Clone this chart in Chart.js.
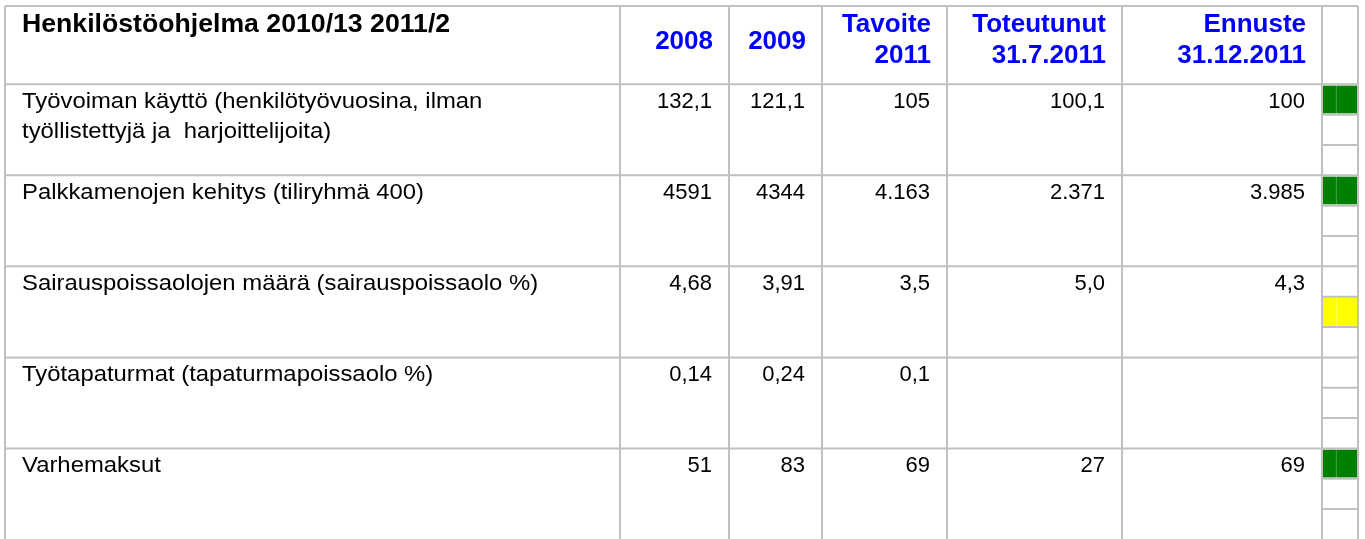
<!DOCTYPE html>
<html>
<head>
<meta charset="utf-8">
<script src="https://cdn.jsdelivr.net/npm/chart.js"></script>
<style>
  html, body { margin: 0; padding: 0; background: #fff; width: 1365px; height: 539px; overflow: hidden; }
  #table { display: block; }
</style>
</head>
<body>
<canvas id="table" width="1365" height="539"></canvas>
<script>
var title = 'Henkilöstöohjelma 2010/13 2011/2';
var columns = [['2008'], ['2009'], ['Tavoite', '2011'], ['Toteutunut', '31.7.2011'], ['Ennuste', '31.12.2011']];
var rowLabels = [
  ['Työvoiman käyttö (henkilötyövuosina, ilman', 'työllistettyjä ja  harjoittelijoita)'],
  ['Palkkamenojen kehitys (tiliryhmä 400)'],
  ['Sairauspoissaolojen määrä (sairauspoissaolo %)'],
  ['Työtapaturmat (tapaturmapoissaolo %)'],
  ['Varhemaksut']
];
var values2008 = ['132,1', '4591', '4,68', '0,14', '51'];
var values2009 = ['121,1', '4344', '3,91', '0,24', '83'];
var tavoite2011 = ['105', '4.163', '3,5', '0,1', '69'];
var toteutunut = ['100,1', '2.371', '5,0', '', '27'];
var ennuste = ['100', '3.985', '4,3', '', '69'];
var lightStatus = ['green', 'green', 'yellow', '', 'green'];

var valueColumns = [values2008, values2009, tavoite2011, toteutunut, ennuste];

// layout: x in px from the left border, y in table rows
var colEdges = [0, 615, 724, 817, 942, 1117, 1317, 1353];
var lightSplit = 1331;
var headerRows = 0.86;
var visibleRows = 4.995;

var lightSlot = { green: 0, yellow: 1, red: 2 };
var lightColor = { green: '#008000', yellow: '#ffff00', red: '#ff0000' };
var lightEdge = { green: '#5cab5c', yellow: '#ffff90', red: '#ff8080' };

// traffic light cells, two halves each
var indicatorData = [];
lightStatus.forEach(function(s, i) {
  if (!s) return;
  var y = i + (lightSlot[s] + 0.5) / 3;
  indicatorData.push({ x: [colEdges[6], lightSplit], y: y, s: s });
  indicatorData.push({ x: [lightSplit, colEdges[7]], y: y, s: s });
});

var drawText = function(ctx, text, px, py, align, sx) {
  ctx.save();
  ctx.translate(px, py);
  ctx.scale(sx, 1);
  ctx.textAlign = align;
  ctx.fillText(text, 0, 0);
  ctx.restore();
};

var tablePlugin = {
  id: 'tableGrid',
  afterDatasetsDraw: function(chart) {
    var ctx = chart.ctx;
    var x = chart.scales.x;
    var y = chart.scales.y;
    var top = y.getPixelForValue(-headerRows);
    var bottom = y.getPixelForValue(visibleRows);
    var left = x.getPixelForValue(colEdges[0]);
    var right = x.getPixelForValue(colEdges[colEdges.length - 1]);
    var lightLeft = x.getPixelForValue(colEdges[6]);

    // grid
    ctx.save();
    ctx.strokeStyle = '#c0c0c0';
    ctx.lineWidth = 2;
    ctx.beginPath();
    colEdges.forEach(function(c) {
      var px = x.getPixelForValue(c);
      ctx.moveTo(px, top);
      ctx.lineTo(px, bottom);
    });
    ctx.moveTo(left, top);
    ctx.lineTo(right, top);
    rowLabels.forEach(function(lbl, r) {
      var py = y.getPixelForValue(r);
      ctx.moveTo(left, py);
      ctx.lineTo(right, py);
      [1 / 3, 2 / 3].forEach(function(f) {
        var sy = y.getPixelForValue(r + f);
        ctx.moveTo(lightLeft, sy);
        ctx.lineTo(right, sy);
      });
    });
    ctx.stroke();

    // header
    ctx.textBaseline = 'alphabetic';
    ctx.fillStyle = '#000';
    ctx.font = 'bold 26px "Liberation Sans", Arial, sans-serif';
    drawText(ctx, title, left + 17, top + 25.5, 'left', 1.025);

    ctx.fillStyle = '#0000ff';
    columns.forEach(function(lines, c) {
      var px = x.getPixelForValue(colEdges[c + 2]) - 16;
      if (lines.length === 1) {
        drawText(ctx, lines[0], px, top + 43, 'right', 1);
      } else {
        drawText(ctx, lines[0], px, top + 26, 'right', 1);
        drawText(ctx, lines[1], px, top + 57, 'right', 1);
      }
    });

    // body
    ctx.fillStyle = '#000';
    ctx.font = '22px "Liberation Sans", Arial, sans-serif';
    rowLabels.forEach(function(lines, r) {
      var py = y.getPixelForValue(r) + 23.5;
      lines.forEach(function(t, k) {
        drawText(ctx, t, left + 17, py + k * 30, 'left', 1.085);
      });
      valueColumns.forEach(function(vals, c) {
        var px = x.getPixelForValue(colEdges[c + 2]) - 17;
        if (vals[r]) drawText(ctx, vals[r], px, py, 'right', 1);
      });
    });
    ctx.restore();
  }
};

new Chart(document.getElementById('table'), {
  type: 'bar',
  data: {
    datasets: [{
      data: indicatorData,
      backgroundColor: function(c) { return c.raw ? lightColor[c.raw.s] : '#fff'; },
      borderColor: function(c) { return c.raw ? lightEdge[c.raw.s] : '#fff'; },
      borderWidth: { left: 1, top: 0, right: 0, bottom: 0 },
      borderSkipped: false,
      barThickness: 28
    }]
  },
  options: {
    indexAxis: 'y',
    responsive: false,
    animation: false,
    layout: { padding: { left: 5, top: 6, right: 7, bottom: 0 } },
    scales: {
      x: { type: 'linear', min: 0, max: colEdges[colEdges.length - 1], display: false },
      y: { type: 'linear', reverse: true, offset: false, min: -headerRows, max: visibleRows, display: false }
    },
    plugins: {
      legend: { display: false },
      tooltip: { enabled: false }
    }
  },
  plugins: [tablePlugin]
});
</script>
</body>
</html>
